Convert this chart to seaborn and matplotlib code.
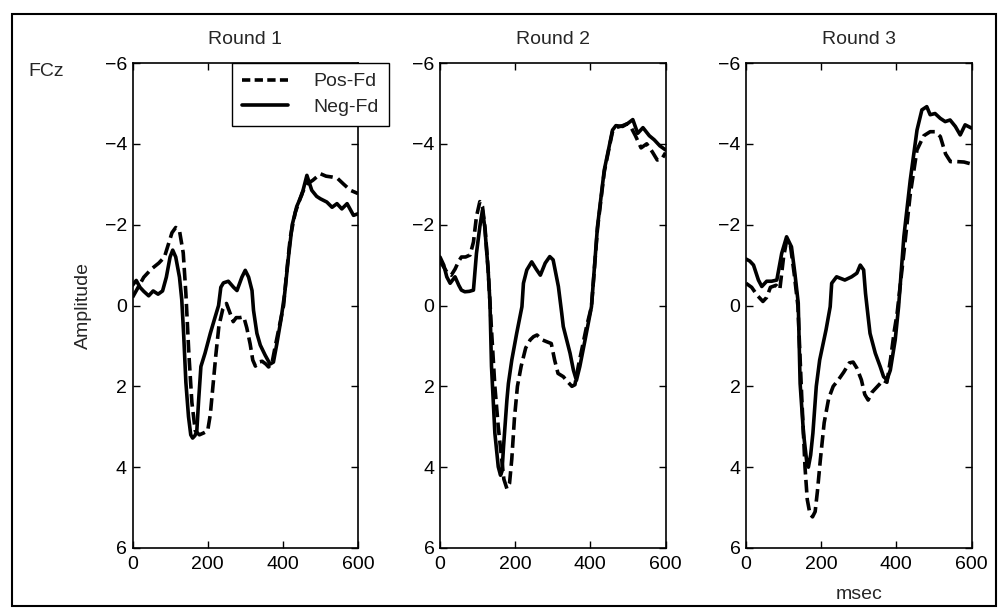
import numpy as np
import pandas as pd
import seaborn as sns
import matplotlib.pyplot as plt
from matplotlib.patches import Rectangle
from matplotlib.lines import Line2D

sns.set_style('ticks')
plt.rcParams['font.family'] = ['Liberation Sans', 'DejaVu Sans']

# ---- data (msec, amplitude in microvolts; axis is drawn negative-up) ----
rounds = ['Round 1', 'Round 2', 'Round 3']

r1_pos_t = [0, 15, 30, 50, 70, 85, 95, 105, 115, 125, 135, 142, 150, 158, 167, 178, 190, 200, 207,
            214, 222, 230, 240, 250, 260, 268, 276, 286, 296, 304, 313, 320, 327, 335, 345, 355,
            362, 371, 380, 391, 402, 411, 420, 433, 451, 464, 480, 500, 515, 530, 545, 562, 580, 600]
r1_pos_v = [-0.2, -0.45, -0.7, -0.9, -1.05, -1.2, -1.5, -1.8, -1.93, -1.85, -1.3, -0.3, 1.2, 2.4,
            3.1, 3.2, 3.15, 3.1, 2.7, 2.0, 1.2, 0.5, 0.1, -0.05, 0.2, 0.4, 0.3, 0.3, 0.28, 0.55,
            0.95, 1.35, 1.5, 1.4, 1.38, 1.45, 1.52, 1.43, 1.0, 0.5, 0.0, -0.9, -1.7, -2.3, -2.78,
            -3.0, -3.1, -3.26, -3.2, -3.18, -3.15, -3.0, -2.85, -2.77]
r1_neg_t = [0, 10, 20, 30, 43, 55, 68, 80, 90, 100, 107, 115, 125, 131, 136, 142, 149, 155, 160,
            166, 171, 176, 182, 193, 207, 220, 229, 235, 242, 255, 269, 278, 291, 300, 309, 318,
            322, 331, 340, 353, 366, 375, 384, 395, 405, 415, 425, 437, 451, 464, 477, 490, 500,
            517, 531, 544, 557, 571, 588, 600]
r1_neg_v = [-0.5, -0.62, -0.45, -0.35, -0.24, -0.36, -0.28, -0.36, -0.7, -1.2, -1.37, -1.2, -0.7,
            -0.15, 0.69, 1.9, 2.75, 3.2, 3.28, 3.22, 3.12, 2.34, 1.51, 1.18, 0.69, 0.28, 0.0,
            -0.45, -0.56, -0.6, -0.45, -0.37, -0.7, -0.87, -0.7, -0.37, 0.12, 0.69, 0.98, 1.23,
            1.45, 1.4, 0.95, 0.35, -0.3, -1.2, -2.0, -2.45, -2.75, -3.22, -2.85, -2.7, -2.64,
            -2.56, -2.43, -2.52, -2.39, -2.52, -2.23, -2.27]

r2_pos_t = [0, 10, 20, 30, 40, 50, 57, 68, 80, 89, 97, 106, 113, 120, 128, 137, 146, 155, 163,
            170, 178, 185, 191, 198, 206, 216, 228, 240, 249, 258, 272, 285, 296, 305, 314, 328,
            341, 351, 359, 368, 377, 390, 403, 419, 437, 450, 459, 468, 486, 499, 506, 520, 535,
            550, 565, 578, 590, 600]
r2_pos_v = [-1.1, -0.95, -0.8, -0.75, -0.9, -1.1, -1.2, -1.2, -1.25, -1.57, -2.2, -2.57, -2.45,
            -1.9, -0.9, 0.6, 2.0, 3.0, 3.7, 4.3, 4.53, 4.4, 3.8, 2.8, 2.0, 1.5, 1.05, 0.85, 0.77,
            0.73, 0.85, 0.9, 0.94, 1.35, 1.68, 1.76, 1.9, 2.0, 1.96, 1.5, 1.1, 0.52, 0.03, -1.9,
            -3.3, -3.9, -4.3, -4.4, -4.45, -4.5, -4.45, -4.2, -3.9, -4.0, -3.8, -3.6, -3.62, -3.78]
r2_neg_t = [0, 10, 18, 27, 40, 50, 57, 66, 78, 89, 97, 106, 113, 119, 128, 133, 137, 146, 155,
            161, 165, 169, 178, 182, 191, 204, 218, 222, 231, 244, 256, 267, 280, 292, 301, 315,
            324, 328, 346, 355, 363, 372, 386, 403, 419, 437, 450, 459, 468, 486, 499, 513, 526,
            540, 557, 570, 585, 600]
r2_neg_v = [-1.2, -1.0, -0.71, -0.55, -0.71, -0.5, -0.38, -0.34, -0.35, -0.38, -1.29, -1.95, -2.36,
            -1.95, -0.88, -0.06, 1.5, 3.16, 3.99, 4.2, 4.1, 3.5, 2.34, 1.93, 1.35, 0.69, 0.03,
            -0.55, -0.88, -1.08, -0.9, -0.75, -1.05, -1.21, -1.13, -0.47, 0.2, 0.52, 1.18, 1.6,
            1.85, 1.51, 0.85, 0.03, -1.95, -3.35, -3.93, -4.34, -4.45, -4.43, -4.5, -4.6, -4.26,
            -4.4, -4.2, -4.1, -3.95, -3.85]

r3_pos_t = [0, 15, 30, 45, 55, 65, 80, 90, 100, 108, 118, 128, 138, 148, 157, 163, 170, 177, 184,
            190, 198, 208, 220, 232, 245, 260, 275, 285, 295, 307, 316, 325, 335, 350, 365, 375,
            385, 395, 402, 420, 437, 455, 473, 490, 503, 517, 531, 544, 562, 580, 600]
r3_pos_v = [-0.55, -0.45, -0.25, -0.1, -0.2, -0.45, -0.5, -0.4, -1.2, -1.6, -1.5, -0.8, 0.0, 2.2,
            4.0, 4.8, 5.15, 5.23, 5.1, 4.6, 3.8, 2.9, 2.3, 2.0, 1.85, 1.65, 1.42, 1.4, 1.55, 1.84,
            2.2, 2.34, 2.15, 2.0, 1.85, 1.9, 1.3, 0.6, 0.2, -1.3, -2.75, -3.85, -4.2, -4.3, -4.3,
            -4.18, -3.75, -3.56, -3.56, -3.55, -3.5]
r3_neg_t = [0, 10, 20, 33, 42, 55, 68, 82, 95, 108, 121, 130, 139, 144, 153, 162, 166, 172, 178,
            187, 196, 213, 224, 228, 241, 263, 281, 295, 304, 313, 318, 324, 330, 344, 357, 366,
            375, 384, 397, 406, 420, 437, 455, 468, 481, 490, 503, 517, 530, 543, 557, 570, 583, 600]
r3_neg_v = [-1.15, -1.1, -1.0, -0.63, -0.47, -0.6, -0.6, -0.63, -1.29, -1.7, -1.45, -0.8, -0.06,
            1.93, 3.16, 3.9, 4.0, 3.7, 3.16, 2.0, 1.35, 0.6, 0.03, -0.55, -0.71, -0.63, -0.71,
            -0.8, -1.0, -0.88, -0.3, 0.2, 0.69, 1.18, 1.51, 1.76, 1.84, 1.6, 0.85, 0.03, -1.7,
            -3.1, -4.34, -4.84, -4.92, -4.72, -4.75, -4.63, -4.55, -4.59, -4.43, -4.22, -4.47, -4.39]

series = {
    'Round 1': {'Pos-Fd': (r1_pos_t, r1_pos_v), 'Neg-Fd': (r1_neg_t, r1_neg_v)},
    'Round 2': {'Pos-Fd': (r2_pos_t, r2_pos_v), 'Neg-Fd': (r2_neg_t, r2_neg_v)},
    'Round 3': {'Pos-Fd': (r3_pos_t, r3_pos_v), 'Neg-Fd': (r3_neg_t, r3_neg_v)},
}

# long table for seaborn
rows = []
for rnd, conds in series.items():
    for cond, (t, v) in conds.items():
        rows.append(pd.DataFrame({'msec': t, 'amp': v, 'cond': cond, 'round': rnd}))
df = pd.concat(rows, ignore_index=True)

W, H = 998, 608
fig = plt.figure(figsize=(W / 100, H / 100), dpi=100)

lefts = [132.5, 440, 746]
ax_w = 225.5
ax_top, ax_bot = 63, 548
lw = 2.6
fs = 14
dash_map = {'Pos-Fd': (3.5, 1.5), 'Neg-Fd': ''}

axes = []
for i, rnd in enumerate(rounds):
    ax = fig.add_axes([lefts[i] / W, 1 - ax_bot / H, ax_w / W, (ax_bot - ax_top) / H])
    sub = df[df['round'] == rnd]
    sns.lineplot(data=sub, x='msec', y='amp', style='cond', style_order=['Pos-Fd', 'Neg-Fd'],
                 dashes=dash_map, color='black', lw=lw, ax=ax, legend=False,
                 estimator=None, sort=False)
    ax.set_xlim(0, 600)
    ax.set_ylim(6, -6)
    ax.set_xticks([0, 200, 400, 600])
    ax.set_yticks([-6, -4, -2, 0, 2, 4, 6])
    ax.tick_params(direction='in', length=5, width=1, top=True, right=True,
                   labelsize=fs, colors='black')
    ax.tick_params(axis='x', pad=6)
    ax.tick_params(axis='y', pad=4)
    for sp in ax.spines.values():
        sp.set_linewidth(1.2)
        sp.set_color('black')
        sp.set_visible(True)
    ax.set_title(rnd, fontsize=fs, pad=14)
    ax.set_xlabel('')
    ax.set_ylabel('')
    axes.append(ax)

axes[0].set_ylabel('Amplitude', fontsize=fs, labelpad=9)
axes[2].set_xlabel('msec', fontsize=fs, labelpad=9)

# legend, sitting on the top edge of the first panel and spilling past it
handles = [Line2D([], [], color='black', lw=lw, ls=(0, (2.3, 1.2))),
           Line2D([], [], color='black', lw=lw)]
leg = axes[0].legend(handles, ['Pos-Fd', 'Neg-Fd'], loc='upper left',
                     bbox_to_anchor=(232 / W, 1 - ax_top / H), bbox_transform=fig.transFigure,
                     borderaxespad=0, frameon=True, fancybox=False, edgecolor='black',
                     framealpha=1, fontsize=fs, handlelength=2.4, handletextpad=1.3,
                     borderpad=0.5, labelspacing=0.42)
leg.get_frame().set_linewidth(1.0)

fig.text(28 / W, 1 - 71 / H, 'FCz', fontsize=fs, ha='left', va='center')

# outer box around the whole figure
fig.add_artist(Rectangle((12 / W, 2 / H), 984 / W, (H - 16) / H, transform=fig.transFigure,
                         fill=False, edgecolor='black', lw=1.5))

fig.savefig('out.png', dpi=100)
